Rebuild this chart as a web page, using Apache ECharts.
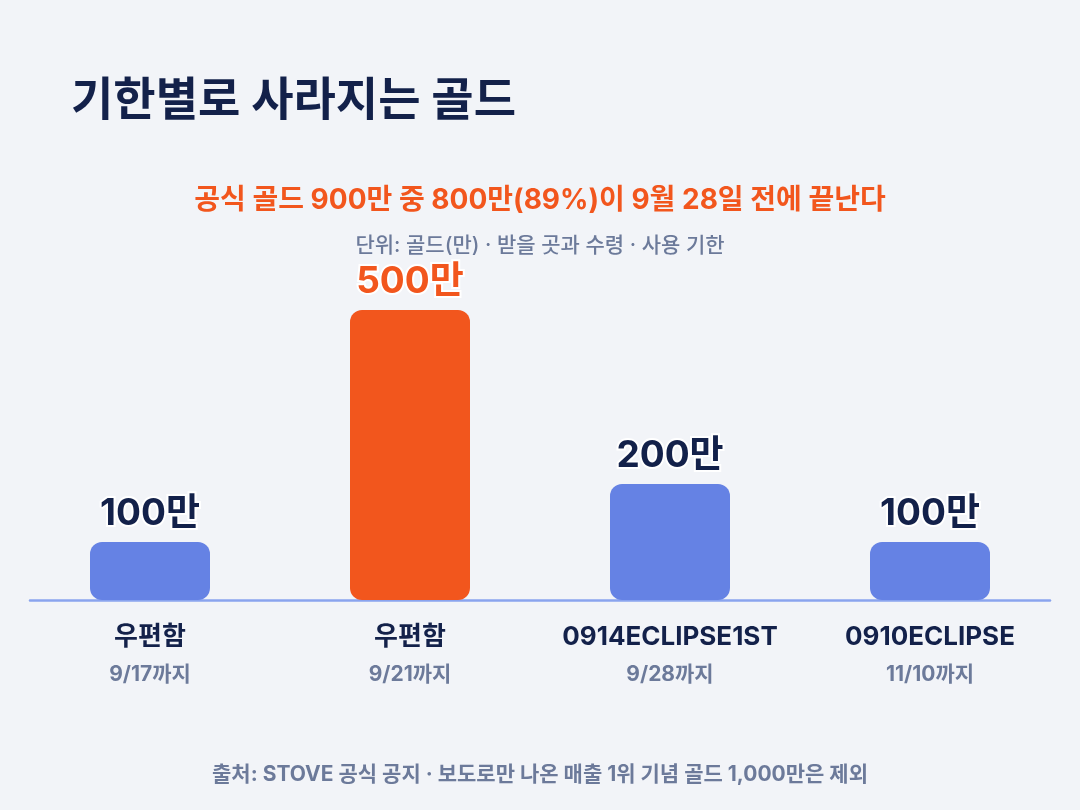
<!DOCTYPE html>
<html>
<head>
<meta charset="utf-8">
<script src="https://cdn.jsdelivr.net/npm/echarts@6/dist/echarts.min.js"></script>
<style>
html,body{margin:0;padding:0;background:#f2f4f8;}
#chart{width:1080px;height:810px;}
</style>
</head>
<body>
<div id="chart"></div>
<script>
const categories = ['우편함', '우편함', '0914ECLIPSE1ST', '0910ECLIPSE'];
const deadlines = ['9/17까지', '9/21까지', '9/28까지', '11/10까지'];
const values = [100, 500, 200, 100];
const highlightIndex = 1;

const FONT = "Inter, 'Noto Sans CJK KR', sans-serif";
const NAVY = '#13214a';
const ORANGE = '#f2561d';
const BLUE = '#6582e4';
const GREY = '#6c7a9a';

const chart = echarts.init(document.getElementById('chart'));
chart.setOption({
  backgroundColor: '#f2f4f8',
  textStyle: { fontFamily: FONT },
  title: [
    { text: '기한별로 사라지는 골드', left: 66, top: 73,
      textStyle: { fontFamily: FONT, fontSize: 46, fontWeight: 'bold', color: NAVY } },
    { text: '공식 골드 900만 중 800만(89%)이 9월 28일 전에 끝난다', left: 'center', top: 182,
      textStyle: { fontFamily: FONT, fontSize: 28, fontWeight: 'bold', color: ORANGE } },
    { text: '단위: 골드(만) · 받을 곳과 수령 · 사용 기한', left: 'center', top: 230,
      textStyle: { fontFamily: FONT, fontSize: 21, fontWeight: 500, color: GREY } },
    { text: '출처: STOVE 공식 공지 · 보도로만 나온 매출 1위 기념 골드 1,000만은 제외', left: 'center', top: 759,
      textStyle: { fontFamily: FONT, fontSize: 21, fontWeight: 'bold', color: GREY } }
  ],
  grid: [
    { left: 20, right: 20, top: 310, bottom: 210 },
    { left: 30, right: 30, top: 310, bottom: 210 }
  ],
  xAxis: [
    { type: 'category', gridIndex: 0, data: categories.map((c, i) => c + '\n' + deadlines[i]),
      axisLine: { show: false }, axisTick: { show: false },
      axisLabel: {
        margin: 18, interval: 0,
        formatter: function (v) { const p = v.split('\n'); return '{n|' + p[0] + '}\n{d|' + p[1] + '}'; },
        rich: {
          n: { fontFamily: FONT, fontSize: 26, fontWeight: 'bold', color: NAVY, lineHeight: 38 },
          d: { fontFamily: FONT, fontSize: 21, fontWeight: 'bold', color: GREY, lineHeight: 38 }
        }
      } },
    { type: 'category', gridIndex: 1, data: categories,
      axisLine: { show: true, lineStyle: { color: '#8aa4ee', width: 2.5 } },
      axisTick: { show: false }, axisLabel: { show: false } }
  ],
  yAxis: [
    { type: 'value', gridIndex: 0, min: 0, max: 500, show: false, splitLine: { show: false } },
    { type: 'value', gridIndex: 1, min: 0, max: 500, show: false, splitLine: { show: false } }
  ],
  series: [{
    type: 'bar', xAxisIndex: 0, yAxisIndex: 0, barWidth: 120, z: 3,
    data: values.map((v, i) => ({
      value: v,
      itemStyle: { color: i === highlightIndex ? ORANGE : BLUE, borderRadius: 12 },
      label: { color: i === highlightIndex ? ORANGE : NAVY }
    })),
    label: {
      show: true, position: 'top', distance: 10,
      formatter: p => p.value + '만',
      fontFamily: FONT, fontSize: 37, fontWeight: 'bold',
      textBorderColor: '#ffffff', textBorderWidth: 4
    }
  }]
});
</script>
</body>
</html>
